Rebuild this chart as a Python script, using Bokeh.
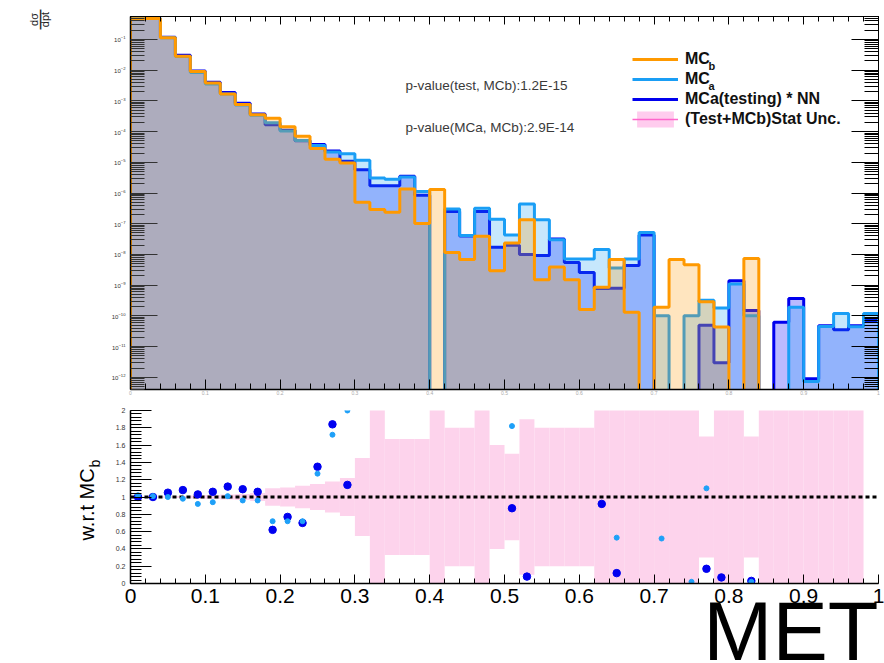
import numpy as np
from bokeh.plotting import figure
from bokeh.layouts import column
from bokeh.models import (Range1d, FixedTicker, LinearAxis, Label,
                          Legend, LegendItem)
from bokeh.embed import file_html
from bokeh.resources import INLINE

# ---------------- data ----------------
bin_edges = np.round(np.linspace(0.0, 1.0, 51), 2).tolist()

mc_b = [0.47, 0.48, 0.113, 0.0286, 0.0091, 0.0038, 0.00167, 7.7e-4, 3.55e-4, 2.7e-4,
        1.44e-4, 7.1e-5, 2.8e-5, 1.27e-5, 9.5e-6, 5.0e-7, 2.9e-7, 2.35e-7, 1.35e-6, 1.02e-7,
        1.3e-6, 1.15e-8, 6.8e-9, 3.9e-8, 2.95e-9, 2.35e-8, 1.35e-7, 1.5e-9, 3.9e-9, 1.5e-9,
        1.6e-10, 8.5e-10, 6.8e-9, 1.3e-10, 0.0, 1.9e-10, 6.8e-9, 4.6e-9, 2.9e-10, 4.3e-11,
        0.0, 7.4e-9, 0.0, 0.0, 0.0, 0.0, 0.0, 0.0, 0.0, 0.0]

mc_a = [0.48, 0.485, 0.113, 0.028, 0.0084, 0.00357, 0.00169, 7.4e-4, 3.41e-4, 1.94e-4,
        1.04e-4, 5.1e-5, 3.56e-5, 2.18e-5, 1.9e-5, 1.17e-5, 3.1e-6, 2.8e-6, 3.3e-6, 1.12e-6,
        0.0, 3.0e-7, 4.1e-8, 3.2e-7, 1.4e-7, 4.3e-8, 4.4e-7, 1.35e-7, 3.0e-8, 7.1e-9,
        7.1e-9, 1.45e-8, 3.6e-9, 7.1e-9, 5.2e-8, 1.0e-10, 0.0, 1.0e-10, 3.2e-10, 1.8e-10,
        1.1e-9, 1.0e-10, 0.0, 0.0, 1.9e-10, 7.3e-13, 4.5e-11, 1.2e-10, 4.4e-11, 1.2e-10]

mc_a_nn = [0.47, 0.48, 0.119, 0.0309, 0.0094, 0.00403, 0.00187, 8.4e-4, 3.76e-4, 1.67e-4,
           1.11e-4, 5.0e-5, 3.78e-5, 2.34e-5, 1.08e-5, 5.7e-6, 1.74e-6, 1.74e-6, 3.5e-6, 8.5e-7,
           0.0, 2.5e-7, 4.0e-8, 2.5e-7, 1.7e-8, 2.0e-8, 1.0e-8, 9.2e-9, 3.2e-8, 5.5e-9,
           2.6e-9, 7.8e-10, 8.0e-10, 4.4e-9, 4.3e-8, 0.0, 0.0, 0.0, 4.9e-11, 3.0e-12,
           1.4e-9, 1.5e-10, 0.0, 6.2e-11, 3.7e-10, 8.9e-13, 4.8e-11, 3.5e-11, 4.8e-11, 7.1e-11]

stat_unc = [0.004, 0.004, 0.008, 0.012, 0.018, 0.022, 0.028, 0.035, 0.045, 0.1,
            0.11, 0.13, 0.15, 0.18, 0.22, 0.45, 1.5, 0.67, 0.67, 0.67,
            1.5, 0.8, 0.8, 1.5, 0.6, 0.5, 0.9, 0.8, 0.8, 0.8,
            0.8, 1.5, 1.5, 1.5, 1.5, 1.5, 1.5, 1.5, 0.7, 1.5,
            1.5, 0.7, 1.5, 1.5, 1.5, 1.5, 1.5, 1.5, 1.5, 0.0]

ratio_nn_x = [0.01, 0.03, 0.05, 0.07, 0.09, 0.11, 0.13, 0.15, 0.17, 0.19, 0.21, 0.23,
              0.25, 0.27, 0.29, 0.51, 0.53, 0.63, 0.65, 0.77, 0.79, 0.83]
ratio_nn_y = [1.0, 1.0, 1.05, 1.08, 1.03, 1.06, 1.12, 1.09, 1.06, 0.62, 0.77, 0.70,
              1.35, 1.84, 1.14, 0.87, 0.08, 0.92, 0.12, 0.17, 0.07, 0.03]

ratio_a_x = [0.01, 0.03, 0.05, 0.07, 0.09, 0.11, 0.13, 0.15, 0.17, 0.19, 0.21, 0.23,
             0.25, 0.27, 0.29, 0.51, 0.65, 0.71, 0.75, 0.77, 0.83]
ratio_a_y = [1.02, 1.01, 1.0, 0.98, 0.92, 0.94, 1.01, 0.96, 0.96, 0.72, 0.72, 0.72,
             1.27, 1.72, 2.0, 1.82, 0.53, 0.52, 0.02, 1.1, 0.02]

reference_level = 1.0

pvalue_texts = ["p-value(test, MCb):1.2E-15", "p-value(MCa, MCb):2.9E-14"]
legend_labels = ["MC", "MC", "MCa(testing) * NN", "(Test+MCb)Stat Unc."]
legend_subscripts = ["b", "a"]
x_ticks = [0.0, 0.1, 0.2, 0.3, 0.4, 0.5, 0.6, 0.7, 0.8, 0.9, 1.0]
x_tick_labels = ["0", "0.1", "0.2", "0.3", "0.4", "0.5", "0.6", "0.7", "0.8", "0.9", "1"]
log_ticks = [1e-12, 1e-11, 1e-10, 1e-9, 1e-8, 1e-7, 1e-6, 1e-5, 1e-4, 1e-3, 1e-2, 1e-1]
ratio_ticks = [0.0, 0.2, 0.4, 0.6, 0.8, 1.0, 1.2, 1.4, 1.6, 1.8, 2.0]
ratio_tick_labels = ["0", "0.2", "0.4", "0.6", "0.8", "1", "1.2", "1.4", "1.6", "1.8", "2"]

# ---------------- helpers ----------------
FLOOR = 1e-15
NAN = float("nan")
x_minor = [round(0.02 * i, 2) for i in range(51)]
log_minor = [k * 10.0 ** n for n in range(-13, 0) for k in range(2, 10)]
ratio_minor = [round(0.04 * i, 2) for i in range(51)]


def step_xy(vals):
    xs, ys = [bin_edges[0]], [FLOOR]
    for i, v in enumerate(vals):
        h = v if v > 0 else FLOOR
        xs += [bin_edges[i], bin_edges[i + 1]]
        ys += [h, h]
    xs.append(bin_edges[-1])
    ys.append(FLOOR)
    return xs, ys


FONT = "Liberation Sans"
C_B = "#FF9900"
C_A = "#1A9EF5"
C_NN = "#0000EE"

# ---------------- top panel ----------------
p1 = figure(width=884, height=401, x_range=Range1d(0, 1), y_range=Range1d(4e-13, 0.56),
            y_axis_type="log", output_backend="svg", toolbar_location=None,
            min_border_left=130, min_border_right=4, min_border_top=16, min_border_bottom=12,
            outline_line_color="black", outline_line_width=1)
p1.grid.visible = False

xa, ya = step_xy(mc_a)
xn, yn = step_xy(mc_a_nn)
xb, yb = step_xy(mc_b)

p1.patch(xn, yn, fill_color="#0000FF", fill_alpha=0.27, line_alpha=0)
r_nn = p1.line(xn, yn, line_color=C_NN, line_width=3)
p1.patch(xa, ya, fill_color=C_A, fill_alpha=0.25, line_alpha=0)
r_a = p1.line(xa, ya, line_color=C_A, line_width=3)
p1.patch(xb, yb, fill_color=C_B, fill_alpha=0.25, line_alpha=0)
r_b = p1.line(xb, yb, line_color=C_B, line_width=3)

# legend swatch for the stat band (NaN data: nothing drawn in the plot)
r_band = p1.quad(left=[NAN], right=[NAN], top=[NAN], bottom=[NAN],
                 fill_color="#FFCCEE", line_alpha=0)
r_bandl = p1.line(x=[NAN], y=[NAN], line_color="#FF66CC", line_width=1.5)

xax = p1.xaxis[0]
xax.ticker = FixedTicker(ticks=x_ticks, minor_ticks=x_minor)
xax.major_label_overrides = {t: l for t, l in zip(x_ticks, x_tick_labels)}
xax.major_label_text_font_size = "5px"
xax.major_label_text_color = "#aaaaaa"
xax.major_label_standoff = 1
xax.major_tick_in = 10
xax.major_tick_out = 0
xax.minor_tick_in = 6
xax.minor_tick_out = 0
xax.axis_line_color = "black"
xax.axis_line_width = 1.5

top_ax = LinearAxis(ticker=FixedTicker(ticks=x_ticks, minor_ticks=x_minor),
                    major_label_overrides={t: "" for t in x_ticks},
                    major_tick_in=8, major_tick_out=0,
                    minor_tick_in=5, minor_tick_out=0, axis_line_color="black")
p1.add_layout(top_ax, "above")

yax = p1.yaxis[0]
yax.ticker = FixedTicker(ticks=log_ticks, minor_ticks=log_minor)
yax.major_label_text_font_size = "6px"
yax.major_label_text_color = "#333333"
yax.major_label_standoff = 5
yax.major_tick_in = 27
yax.major_tick_out = 0
yax.minor_tick_in = 14
yax.minor_tick_out = 0
yax.major_tick_line_color = "#333333"
yax.minor_tick_line_color = "#333333"
yax.axis_line_color = "black"
yax.axis_line_width = 1.5

r_ax = LinearAxis(ticker=FixedTicker(ticks=log_ticks, minor_ticks=log_minor),
                  major_label_overrides={t: "" for t in log_ticks},
                  major_tick_in=27, major_tick_out=0,
                  minor_tick_in=14, minor_tick_out=0, axis_line_color="black",
                  major_tick_line_color="black", minor_tick_line_color="black")
p1.add_layout(r_ax, "right")

legend = Legend(items=[LegendItem(label=legend_labels[0], renderers=[r_b]),
                       LegendItem(label=legend_labels[1], renderers=[r_a]),
                       LegendItem(label=legend_labels[2], renderers=[r_nn]),
                       LegendItem(label=legend_labels[3], renderers=[r_band, r_bandl])],
                location=(502, 260), padding=0, margin=0, spacing=0,
                label_height=20, glyph_height=20, glyph_width=46, label_standoff=7,
                border_line_alpha=0, background_fill_alpha=0,
                label_text_font=FONT, label_text_font_style="bold",
                label_text_font_size="16px", label_text_color="#111111")
p1.add_layout(legend)

for txt, yy in zip(legend_subscripts, [324, 304]):
    p1.add_layout(Label(x=578, y=yy, x_units="screen", y_units="screen", text=txt,
                        text_font=FONT, text_font_style="bold", text_font_size="11px",
                        text_baseline="middle", text_color="#111111"))

for txt, yy in zip(pvalue_texts, [304, 262]):
    p1.add_layout(Label(x=275, y=yy, x_units="screen", y_units="screen", text=txt,
                        text_font=FONT, text_font_size="13.5px", text_baseline="middle",
                        text_color="#3a3a3a"))

# ---------------- ratio panel ----------------
p2 = figure(width=884, height=262, x_range=Range1d(0, 1), y_range=Range1d(0, 2),
            output_backend="svg", toolbar_location=None,
            min_border_left=130, min_border_right=6, min_border_top=9, min_border_bottom=80,
            outline_line_color=None)
p2.grid.visible = False

lo = [max(reference_level - e, 0.0) for e in stat_unc]
hi = [reference_level + e for e in stat_unc]
p2.quad(left=bin_edges[:-1], right=bin_edges[1:], bottom=lo, top=hi,
        fill_color="#FDD3EC", line_alpha=0)
p2.line(x=[bin_edges[0], bin_edges[-1]], y=[reference_level, reference_level],
        line_color="black", line_width=3, line_dash="4 3")
p2.scatter(ratio_nn_x, ratio_nn_y, size=7.5, color="#0000F0")
p2.scatter(ratio_a_x, ratio_a_y, size=5, color="#1EA0F8")

bx = p2.xaxis[0]
bx.ticker = FixedTicker(ticks=x_ticks, minor_ticks=x_minor)
bx.major_label_overrides = {t: l for t, l in zip(x_ticks, x_tick_labels)}
bx.major_label_text_font = FONT
bx.major_label_text_font_size = "21px"
bx.major_label_text_color = "black"
bx.major_label_standoff = 5
bx.major_tick_in = 9
bx.major_tick_out = 0
bx.minor_tick_in = 5
bx.minor_tick_out = 0
bx.axis_line_color = "black"
bx.axis_line_width = 1.5

by = p2.yaxis[0]
by.ticker = FixedTicker(ticks=ratio_ticks, minor_ticks=ratio_minor)
by.major_label_overrides = {t: l for t, l in zip(ratio_ticks, ratio_tick_labels)}
by.major_label_text_font = FONT
by.major_label_text_font_size = "7px"
by.major_label_text_color = "#333333"
by.major_label_standoff = 5
by.major_tick_in = 21
by.major_tick_out = 0
by.minor_tick_in = 11
by.minor_tick_out = 0
by.axis_line_color = "black"
by.axis_line_width = 1.5

# ---------------- transparent overlay for the free-standing titles ----------------
# frame spans x 130..880 of the page and the full page height; 1 unit = 1 pixel
ov = figure(width=884, height=663, x_range=Range1d(0, 750), y_range=Range1d(0, 663),
            x_axis_location=None, y_axis_location=None,
            output_backend="svg", toolbar_location=None,
            min_border_left=130, min_border_right=4, min_border_top=0, min_border_bottom=0,
            background_fill_alpha=0, border_fill_alpha=0, outline_line_color=None,
            margin=(-663, 0, 0, 0))
ov.grid.visible = False

for txt, xx, fs in [("dσ", -97, "11px"), ("—", -91.5, "20px"), ("dpt", -86, "11px")]:
    ov.add_layout(Label(x=xx, y=644, text=txt,
                        angle=np.pi / 2, text_align="center", text_baseline="middle",
                        text_font=FONT, text_font_size=fs, text_color="#222222"), "left")

ov.add_layout(Label(x=-44, y=123, text="w.r.t MC",
                    angle=np.pi / 2, text_align="left", text_baseline="middle",
                    text_font=FONT, text_font_size="20px", text_color="black"), "left")
ov.add_layout(Label(x=-36, y=196, text="b",
                    angle=np.pi / 2, text_align="left", text_baseline="middle",
                    text_font=FONT, text_font_size="14px", text_color="black"), "left")
ov.add_layout(Label(x=748, y=32, x_units="screen", y_units="screen", text="MET",
                    text_align="right", text_baseline="alphabetic",
                    text_font=FONT, text_font_size="83px", text_color="black"))

layout = column(p1, p2, ov, spacing=0)
open("out.html", "w").write(file_html(layout, INLINE))
